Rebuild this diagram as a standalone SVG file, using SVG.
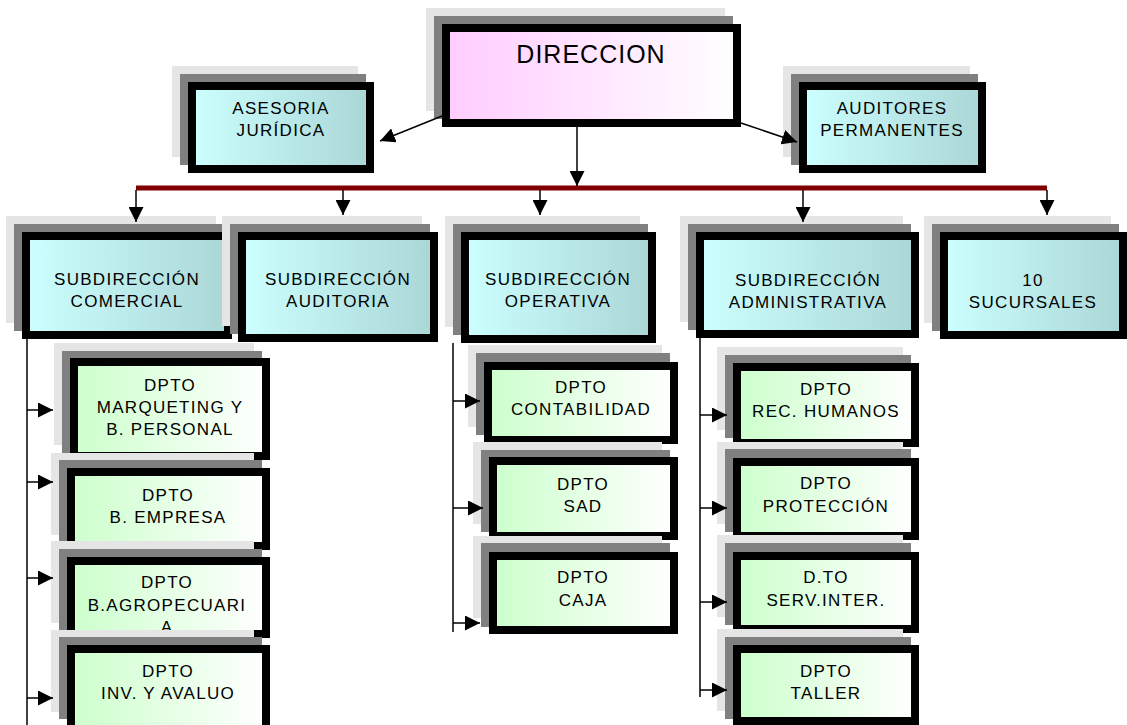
<svg xmlns="http://www.w3.org/2000/svg" width="1127" height="725" viewBox="0 0 1127 725">
<style>
.sh1{fill:#e5e5e5}
.sh2{fill:#808080}
.box{stroke:#000;stroke-width:8}
.cy{fill:url(#gCyan)}
.gr{fill:url(#gGreen)}
.pk{fill:url(#gPink)}
text{font-family:"Liberation Sans",Arial,sans-serif;font-size:17px;letter-spacing:1.3px;fill:#000;text-anchor:middle}
.big{font-size:25px;letter-spacing:1px}
.ln{stroke:#000;stroke-width:1.5;fill:none}
.arr{marker-end:url(#ah)}
.bar{stroke:#800000;stroke-width:5;fill:none}
</style>
<defs>
<linearGradient id="gPink" x1="0" y1="0" x2="1" y2="0"><stop offset="0" stop-color="#ffccff"/><stop offset="1" stop-color="#ffffff"/></linearGradient>
<linearGradient id="gCyan" x1="0" y1="0" x2="1" y2="0"><stop offset="0" stop-color="#ccffff"/><stop offset="1" stop-color="#abd6d6"/></linearGradient>
<linearGradient id="gGreen" x1="0" y1="0" x2="1" y2="0"><stop offset="0" stop-color="#ccffcc"/><stop offset="1" stop-color="#ffffff"/></linearGradient>
<marker id="ah" markerUnits="userSpaceOnUse" markerWidth="15" markerHeight="15" refX="15" refY="7.5" orient="auto"><path d="M0,0 L15,7.5 L0,15 z" fill="#000"/></marker>
</defs>
<rect width="1127" height="725" fill="#fff"/>

<g id="n-direccion">
<rect class="sh1" x="426" y="8" width="299" height="103"/>
<rect class="sh2" x="434" y="16" width="299" height="103"/>
<rect class="box pk" x="446" y="28" width="291" height="95"/>
<text class="big" x="591" y="63">DIRECCION</text>
</g>

<g id="n-asesoria">
<rect class="sh1" x="172" y="66" width="186" height="91"/>
<rect class="sh2" x="180" y="74" width="186" height="91"/>
<rect class="box cy" x="192" y="86" width="178" height="83"/>
<text x="281" y="114">ASESORIA</text>
<text x="281" y="136">JURÍDICA</text>
</g>

<g id="n-auditores">
<rect class="sh1" x="783" y="66" width="187" height="91"/>
<rect class="sh2" x="791" y="74" width="187" height="91"/>
<rect class="box cy" x="803" y="86" width="179" height="83"/>
<text x="892" y="114">AUDITORES</text>
<text x="892" y="136">PERMANENTES</text>
</g>

<g id="n-comercial">
<rect class="sh1" x="6" y="216" width="210" height="107"/>
<rect class="sh2" x="14" y="224" width="210" height="107"/>
<rect class="box cy" x="26" y="236" width="202" height="99"/>
<text x="127" y="285">SUBDIRECCIÓN</text>
<text x="127" y="307">COMERCIAL</text>
</g>

<g id="n-auditoria">
<rect class="sh1" x="222" y="216" width="200" height="110"/>
<rect class="sh2" x="230" y="224" width="200" height="110"/>
<rect class="box cy" x="242" y="236" width="192" height="102"/>
<text x="338" y="285">SUBDIRECCIÓN</text>
<text x="338" y="307">AUDITORIA</text>
</g>

<g id="n-operativa">
<rect class="sh1" x="445" y="216" width="195" height="111"/>
<rect class="sh2" x="453" y="224" width="195" height="111"/>
<rect class="box cy" x="465" y="236" width="187" height="103"/>
<text x="558" y="285">SUBDIRECCIÓN</text>
<text x="558" y="307">OPERATIVA</text>
</g>

<g id="n-administrativa">
<rect class="sh1" x="680" y="216" width="223" height="106"/>
<rect class="sh2" x="688" y="224" width="223" height="106"/>
<rect class="box cy" x="700" y="236" width="215" height="98"/>
<text x="808" y="286">SUBDIRECCIÓN</text>
<text x="808" y="308">ADMINISTRATIVA</text>
</g>

<g id="n-sucursales">
<rect class="sh1" x="924" y="216" width="187" height="107"/>
<rect class="sh2" x="932" y="224" width="187" height="107"/>
<rect class="box cy" x="944" y="236" width="179" height="99"/>
<text x="1033" y="286">10</text>
<text x="1033" y="308">SUCURSALES</text>
</g>

<g id="n-marqueting">
<rect class="sh1" x="54" y="343" width="200" height="102"/>
<rect class="sh2" x="62" y="351" width="200" height="102"/>
<rect class="box gr" x="74" y="362" width="192" height="94"/>
<text x="170" y="391">DPTO</text>
<text x="170" y="413">MARQUETING Y</text>
<text x="170" y="435">B. PERSONAL</text>
</g>

<g id="n-empresa">
<rect class="sh1" x="51" y="453" width="203" height="82"/>
<rect class="sh2" x="59" y="460" width="203" height="82"/>
<rect class="box gr" x="71" y="472" width="195" height="74"/>
<text x="168" y="501">DPTO</text>
<text x="168" y="523">B. EMPRESA</text>
</g>

<g id="n-agropecuaria">
<rect class="sh1" x="51" y="541" width="203" height="82"/>
<rect class="sh2" x="59" y="549" width="203" height="82"/>
<rect class="box gr" x="71" y="561" width="195" height="73"/>
<text x="167" y="588">DPTO</text>
<text x="167" y="611">B.AGROPECUARI</text>
<text x="167" y="633">A</text>
</g>

<g id="n-avaluo">
<rect class="sh1" x="51" y="630" width="203" height="82"/>
<rect class="sh2" x="59" y="637" width="203" height="82"/>
<rect class="box gr" x="71" y="649" width="195" height="80"/>
<text x="168" y="677">DPTO</text>
<text x="168" y="699">INV. Y AVALUO</text>
</g>

<g id="n-contabilidad">
<rect class="sh1" x="468" y="345" width="194" height="82"/>
<rect class="sh2" x="476" y="353" width="194" height="82"/>
<rect class="box gr" x="488" y="366" width="186" height="74"/>
<text x="581" y="393">DPTO</text>
<text x="581" y="415">CONTABILIDAD</text>
</g>

<g id="n-sad">
<rect class="sh1" x="473" y="442" width="189" height="82"/>
<rect class="sh2" x="481" y="450" width="189" height="82"/>
<rect class="box gr" x="493" y="461" width="181" height="75"/>
<text x="583" y="490">DPTO</text>
<text x="583" y="512">SAD</text>
</g>

<g id="n-caja">
<rect class="sh1" x="473" y="536" width="189" height="82"/>
<rect class="sh2" x="481" y="543" width="189" height="84"/>
<rect class="box gr" x="493" y="556" width="181" height="74"/>
<text x="583" y="583">DPTO</text>
<text x="583" y="606">CAJA</text>
</g>

<g id="n-rrhh">
<rect class="sh1" x="717" y="347" width="186" height="83"/>
<rect class="sh2" x="725" y="355" width="186" height="83"/>
<rect class="box gr" x="737" y="367" width="178" height="76"/>
<text x="826" y="395">DPTO</text>
<text x="826" y="417">REC. HUMANOS</text>
</g>

<g id="n-proteccion">
<rect class="sh1" x="717" y="442" width="186" height="82"/>
<rect class="sh2" x="725" y="449" width="186" height="83"/>
<rect class="box gr" x="737" y="462" width="178" height="74"/>
<text x="826" y="489">DPTO</text>
<text x="826" y="512">PROTECCIÓN</text>
</g>

<g id="n-servinter">
<rect class="sh1" x="717" y="535" width="186" height="82"/>
<rect class="sh2" x="725" y="543" width="186" height="82"/>
<rect class="box gr" x="737" y="556" width="178" height="73"/>
<text x="826" y="583">D.TO</text>
<text x="826" y="606">SERV.INTER.</text>
</g>

<g id="n-taller">
<rect class="sh1" x="717" y="629" width="186" height="82"/>
<rect class="sh2" x="725" y="637" width="186" height="82"/>
<rect class="box gr" x="737" y="649" width="178" height="72"/>
<text x="826" y="677">DPTO</text>
<text x="826" y="699">TALLER</text>
</g>

<g id="connectors">
<line class="bar" x1="136" y1="188" x2="1047" y2="188"/>
<line class="ln arr" x1="577" y1="127" x2="577" y2="186"/>
<line class="ln arr" x1="442" y1="116" x2="380" y2="141"/>
<line class="ln arr" x1="741" y1="123" x2="797" y2="142"/>
<line class="ln arr" x1="136" y1="190" x2="136" y2="222"/>
<line class="ln arr" x1="343" y1="190" x2="343" y2="215"/>
<line class="ln arr" x1="540" y1="190" x2="540" y2="215"/>
<line class="ln arr" x1="803" y1="190" x2="803" y2="222"/>
<line class="ln arr" x1="1047" y1="190" x2="1047" y2="215"/>
<line class="ln" x1="27" y1="339" x2="27" y2="725"/>
<line class="ln arr" x1="27" y1="410" x2="53" y2="410"/>
<line class="ln arr" x1="27" y1="482" x2="53" y2="482"/>
<line class="ln arr" x1="27" y1="578" x2="53" y2="578"/>
<line class="ln arr" x1="27" y1="698" x2="53" y2="698"/>
<line class="ln" x1="453" y1="343" x2="453" y2="632"/>
<line class="ln arr" x1="453" y1="401" x2="480" y2="401"/>
<line class="ln arr" x1="453" y1="508" x2="483" y2="508"/>
<line class="ln arr" x1="453" y1="623" x2="480" y2="623"/>
<line class="ln" x1="700" y1="338" x2="700" y2="697"/>
<line class="ln arr" x1="700" y1="415" x2="727" y2="415"/>
<line class="ln arr" x1="700" y1="508" x2="727" y2="508"/>
<line class="ln arr" x1="700" y1="602" x2="727" y2="602"/>
<line class="ln arr" x1="700" y1="690" x2="727" y2="690"/>
</g>
</svg>
